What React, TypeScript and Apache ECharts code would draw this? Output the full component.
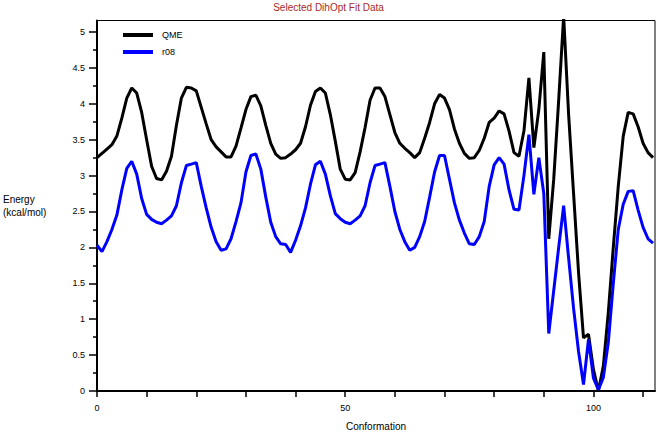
import React, { useEffect, useRef } from "react";
import * as echarts from "echarts";

// Energy (kcal/mol) per conformation index 0..112
const QME = [
  3.25, 3.31, 3.37, 3.43, 3.55, 3.8, 4.08, 4.22, 4.15, 3.88,
  3.5, 3.13, 2.96, 2.94, 3.06, 3.27, 3.7, 4.08, 4.23, 4.22,
  4.18, 3.95, 3.72, 3.5, 3.4, 3.33, 3.26, 3.26, 3.41, 3.66,
  3.92, 4.1, 4.12, 3.97, 3.7, 3.45, 3.3, 3.24, 3.25, 3.3,
  3.36, 3.45, 3.68, 3.98, 4.17, 4.22, 4.15, 3.85, 3.48, 3.09,
  2.95, 2.94, 3.04, 3.33, 3.67, 4.05, 4.22, 4.22, 4.1, 3.85,
  3.6, 3.45, 3.38, 3.32, 3.25, 3.32, 3.52, 3.74, 4.0, 4.13,
  4.08, 3.92, 3.65, 3.45, 3.31, 3.24, 3.25, 3.35, 3.52, 3.74,
  3.8, 3.9, 3.86, 3.62, 3.32, 3.27, 3.62, 4.36, 3.39, 3.92,
  4.72, 2.12, 2.95, 4.05, 5.22, 3.85, 2.75, 1.65, 0.74, 0.79,
  0.3, 0.0, 0.35, 1.1, 2.0, 2.85, 3.55, 3.88, 3.86, 3.68,
  3.45, 3.32, 3.25,
];

const R08 = [
  2.03, 1.94, 2.08, 2.25, 2.45, 2.8, 3.1, 3.2, 3.02, 2.68,
  2.46, 2.39, 2.35, 2.33, 2.38, 2.44, 2.58, 2.9, 3.14, 3.16,
  3.18, 2.85, 2.55, 2.28, 2.08, 1.96, 1.98, 2.12, 2.36, 2.62,
  3.05, 3.28, 3.3, 3.09, 2.7, 2.35, 2.15, 2.05, 2.04, 1.93,
  2.1, 2.3, 2.55, 2.88, 3.15, 3.2, 3.02, 2.72, 2.47, 2.4,
  2.35, 2.33, 2.38, 2.44, 2.58, 2.9, 3.14, 3.16, 3.18, 2.85,
  2.5, 2.25, 2.08, 1.96, 2.0, 2.15, 2.36, 2.7, 3.05, 3.28,
  3.28, 2.95, 2.62, 2.38, 2.2, 2.05, 2.04, 2.15, 2.36, 2.85,
  3.15, 3.25, 3.16, 2.8, 2.53, 2.52, 3.0, 3.57, 2.74, 3.25,
  2.75, 0.8, 1.4, 2.0, 2.58, 1.85, 1.15, 0.55, 0.09, 0.72,
  0.18, 0.02, 0.19, 0.68, 1.5, 2.25, 2.6, 2.78, 2.79, 2.52,
  2.28, 2.12, 2.06,
];

const SERIES_NAMES = ["QME", "r08"];
const X_TICKS = [0, 10, 20, 30, 40, 50, 60, 70, 80, 90, 100, 110];
const X_LABELS = [0, 50, 100];
const Y_MAJOR = [0, 0.5, 1, 1.5, 2, 2.5, 3, 3.5, 4, 4.5, 5];
const Y_MINOR = [0.25, 0.75, 1.25, 1.75, 2.25, 2.75, 3.25, 3.75, 4.25, 4.75];

export default function App() {
  const ref = useRef<HTMLDivElement>(null);

  useEffect(() => {
    if (!ref.current) return;
    const chart = echarts.init(ref.current, null, { renderer: "svg" });
    const font = "'Liberation Sans', Arial, Helvetica, sans-serif";
    const toPairs = (arr: number[]) => arr.map((v, i) => [i, v]);

    chart.setOption({
      animation: false,
      backgroundColor: "#ffffff",
      title: {
        text: "Selected DihOpt Fit Data",
        left: "center",
        top: 2,
        padding: 0,
        textStyle: {
          color: "#a52a2a",
          fontSize: 10,
          fontWeight: "normal",
          fontFamily: font,
        },
      },
      legend: {
        orient: "vertical",
        left: 123,
        top: 29,
        padding: 0,
        icon: "rect",
        itemWidth: 30,
        itemHeight: 4,
        itemGap: 5,
        data: SERIES_NAMES,
        textStyle: {
          fontSize: 9,
          fontFamily: font,
          color: "#000",
          lineHeight: 12,
          padding: [0, 0, 0, 4],
        },
      },
      grid: {
        left: 93,
        right: 2,
        top: 20.5,
        bottom: 43,
        show: true,
        borderColor: "#000",
        borderWidth: 1,
        backgroundColor: "transparent",
      },
      xAxis: {
        type: "value",
        min: 0,
        max: 112.4,
        interval: 10,
        splitLine: { show: false },
        axisLine: { show: true, onZero: false, lineStyle: { color: "#000", width: 2 } },
        axisTick: {
          show: true,
          customValues: X_TICKS,
          length: 6,
          lineStyle: { color: "#000", width: 1.5 },
        },
        axisLabel: {
          customValues: X_LABELS,
          margin: 12,
          fontSize: 9,
          fontFamily: font,
          color: "#000",
        },
        name: "Conformation",
        nameLocation: "middle",
        nameGap: 30,
        nameTextStyle: { fontSize: 10, fontFamily: font, color: "#000" },
      },
      yAxis: [
        {
          type: "value",
          min: 0,
          max: 5.16,
          interval: 0.5,
          position: "left",
          splitLine: { show: false },
          axisLine: { show: true, onZero: false, lineStyle: { color: "#000", width: 2 } },
          axisTick: {
            show: true,
            customValues: Y_MAJOR,
            length: 8,
            lineStyle: { color: "#000", width: 1.5 },
          },
          axisLabel: {
            customValues: Y_MAJOR,
            margin: 12,
            fontSize: 9,
            fontFamily: font,
            color: "#000",
          },
          name: "Energy\n(kcal/mol)",
          nameLocation: "middle",
          nameRotate: 0,
          nameGap: 94,
          nameTextStyle: {
            align: "left",
            fontSize: 10,
            lineHeight: 13,
            fontFamily: font,
            color: "#000",
          },
        },
        {
          type: "value",
          min: 0,
          max: 5.16,
          interval: 0.25,
          position: "left",
          offset: 0,
          splitLine: { show: false },
          axisLine: { show: false },
          axisLabel: { show: false },
          axisTick: {
            show: true,
            customValues: Y_MINOR,
            length: 4,
            lineStyle: { color: "#000", width: 1.5 },
          },
        },
      ],
      series: [
        {
          name: SERIES_NAMES[0],
          type: "line",
          data: toPairs(QME),
          showSymbol: false,
          clip: true,
          color: "#000000",
          lineStyle: { color: "#000000", width: 3 },
        },
        {
          name: SERIES_NAMES[1],
          type: "line",
          data: toPairs(R08),
          showSymbol: false,
          clip: true,
          color: "#0000ff",
          lineStyle: { color: "#0000ff", width: 3 },
        },
      ],
    });

    return () => chart.dispose();
  }, []);

  return (
    <div
      ref={ref}
      style={{ position: "fixed", left: 0, top: 0, width: 657, height: 436 }}
    />
  );
}
